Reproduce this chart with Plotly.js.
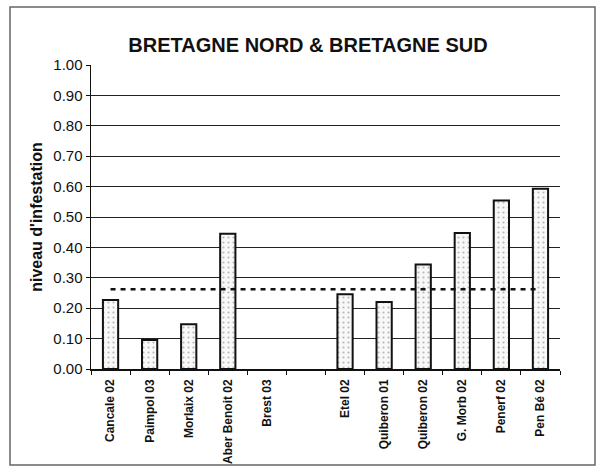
<!DOCTYPE html>
<html>
<head>
<meta charset="utf-8">
<script src="https://cdn.plot.ly/plotly-3.0.1.min.js"></script>
<style>html,body{margin:0;padding:0;background:#fff;}#chart{width:602px;height:468px;}</style>
</head>
<body>
<div id="chart"></div>
<script>
// Data
const sites = ["Cancale 02", "Paimpol 03", "Morlaix 02", "Aber Benoit 02", "Brest 03", " ",
               "Etel 02", "Quiberon 01", "Quiberon 02", "G. Morb 02", "Penerf 02", "Pen Bé 02"];
const infestation = [0.227, 0.095, 0.147, 0.445, null, null,
                     0.246, 0.220, 0.344, 0.447, 0.554, 0.593];
const meanLevel = 0.262;
const yTickVals = [0, 0.1, 0.2, 0.3, 0.4, 0.5, 0.6, 0.7, 0.8, 0.9, 1.0];

// Plot area geometry (pixels)
const W = 602, H = 468;
const plotL = 91, plotR = 560, plotT = 65, plotB = 369;
const px = v => (v - plotL) / (plotR - plotL);
const py = v => (plotB - v) / (plotB - plotT);

const FONT = "Arial, 'Liberation Sans', sans-serif";

const traces = [{
  type: "bar",
  x: sites,
  y: infestation,
  width: 0.39,
  marker: {
    color: "#f6f6f6",
    line: {color: "#111", width: 2},
    pattern: {shape: ".", fgcolor: "#b8b8b8", bgcolor: "#f8f8f8", size: 5, solidity: 0.15}
  },
  hoverinfo: "x+y"
}];

const layout = {
  width: W, height: H,
  paper_bgcolor: "#fff", plot_bgcolor: "#fff",
  margin: {l: plotL, r: W - plotR, t: plotT, b: H - plotB, pad: 0},
  showlegend: false,
  font: {family: FONT, color: "#111"},
  title: {
    text: "<b>BRETAGNE NORD & BRETAGNE SUD</b>",
    font: {family: FONT, size: 20, color: "#111"},
    xref: "container", yref: "container",
    x: 308 / W, xanchor: "center",
    y: 1 - 45 / H, yanchor: "middle"
  },
  xaxis: {
    type: "category",
    categoryorder: "array", categoryarray: sites,
    range: [-0.5, sites.length - 0.5],
    showline: true, linecolor: "#111", linewidth: 1.5,
    ticks: "outside", ticklen: 4, tickcolor: "#111", tickwidth: 1,
    tickson: "boundaries",
    ticklabelstandoff: 4,
    showgrid: false,
    tickangle: -90,
    tickfont: {family: FONT, size: 12, color: "#111", weight: "bold"},
    fixedrange: true
  },
  yaxis: {
    range: [0, 1],
    tickvals: yTickVals,
    tickformat: ".2f",
    showline: true, linecolor: "#111", linewidth: 1.5,
    ticks: "outside", ticklen: 4, tickcolor: "#111",
    showgrid: true, gridcolor: "#222", gridwidth: 1,
    zeroline: false,
    tickfont: {family: FONT, size: 15, color: "#111"},
    title: {
      text: "<b>niveau d'infestation</b>",
      font: {family: FONT, size: 16, color: "#111"},
      standoff: 6
    },
    fixedrange: true
  },
  shapes: [
    {
      type: "line", xref: "x", yref: "y",
      x0: sites[0], x1: sites[sites.length - 1],
      y0: meanLevel, y1: meanLevel,
      line: {color: "#111", width: 2.5, dash: "5px,5px"}
    },
    {
      type: "rect", xref: "paper", yref: "paper", layer: "below",
      x0: px(10), x1: px(595), y0: py(465), y1: py(7),
      line: {color: "#666", width: 1.5}
    }
  ]
};

Plotly.newPlot("chart", traces, layout, {displayModeBar: false, staticPlot: true});
</script>
</body>
</html>
